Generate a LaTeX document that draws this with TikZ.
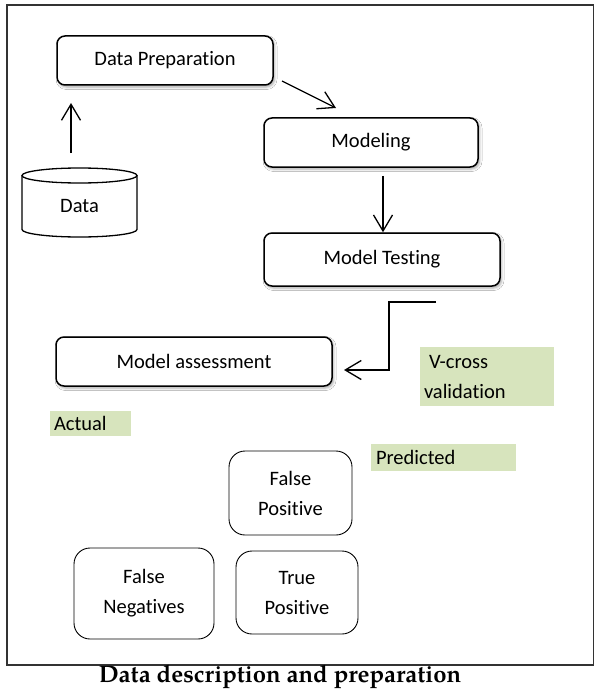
\documentclass[tikz,border=0pt]{standalone}
\usepackage{fontspec}
\setmainfont{Carlito}[Ligatures=NoCommon]
\newfontfamily\capfont{TeX Gyre Pagella}
\usetikzlibrary{arrows.meta,shadows.blur}
\definecolor{tagfill}{HTML}{D7E4BD}
\begin{document}
\begin{tikzpicture}[x=1pt,y=-1pt,
  every node/.style={font=\fontsize{20.5}{30}\selectfont, inner sep=0pt},
  mainbox/.style={draw, line width=1.5pt, rounded corners=8pt, fill=white,
    blur shadow={shadow xshift=1.5pt, shadow yshift=-2pt, shadow opacity=35, shadow blur radius=2.5pt}},
  cellbox/.style={draw, line width=0.9pt, rounded corners=16pt, align=center},
  tag/.style={fill=tagfill, inner xsep=4pt, align=left},
  arr/.style={line width=1.3pt, -{Straight Barb[length=16pt,width=19pt,line width=1.3pt]}}
]
\useasboundingbox (0,0) rectangle (595,690);
\fill[white] (0,0) rectangle (595,690);
% outer frame
\draw[line width=1.2pt, black!80] (7,5) rectangle (593.5,665);

% boxes of the flow
\node[mainbox, minimum width=216pt, minimum height=49pt] (prep) at (165,60.5) {Data Preparation};
\node[mainbox, minimum width=214pt, minimum height=49pt] (model) at (371,142.5) {Modeling};
\node[mainbox, minimum width=236pt, minimum height=53pt] (test) at (382,259.5) {Model Testing};
\node[mainbox, minimum width=276pt, minimum height=49pt] (assess) at (194,361.5) {Model assessment};

% database cylinder
\draw[line width=1.3pt] (22,175.5) -- (22,229.5) arc[start angle=180, end angle=360, x radius=57.5pt, y radius=7.5pt] -- (137,175.5);
\draw[line width=1.3pt] (79.5,175.5) ellipse [x radius=57.5pt, y radius=7.5pt];
\node (data) at (79.5,206) {Data};

% green labels
\node[tag, minimum width=134pt, minimum height=59pt, text width=126pt] (vcross) at (487,376.5) {\hspace*{5pt}V-cross\\validation};
\node[tag, minimum width=81pt, minimum height=25pt, text width=73pt] (actual) at (90.5,423.5) {Actual};
\node[tag, inner xsep=5pt, minimum width=145pt, minimum height=27pt, text width=135pt] (pred) at (443.5,457.5) {Predicted};

% confusion cells
\node[cellbox, minimum width=123pt, minimum height=84pt] (fp) at (290.5,493) {False\\Positive};
\node[cellbox, minimum width=140pt, minimum height=91pt] (fn) at (144,593.5) {False\\Negatives};
\node[cellbox, minimum width=122pt, minimum height=83pt] (tp) at (297,592.5) {True\\Positive};

% connector end points
\coordinate (a1s) at (71,153);
\coordinate (a1e) at (71,103);
\coordinate (a2s) at (282,81);
\coordinate (a2e) at (336,108);
\coordinate (a4s) at (436,302);
\coordinate (a4m) at (389,302);
\coordinate (a4e) at (344,370);

\draw[arr] (a1s) -- (a1e);
\draw[arr] (a2s) -- (a2e);
\draw[arr] (model.south -| test.north) ++(1,8) coordinate (a3s) -- (a3s |- test.north);
\draw[arr] (a4s) -- (a4m) |- (a4e);

% caption
\node[font=\capfont\bfseries\fontsize{23.9}{28}\selectfont, anchor=base] (cap) at (280,682) {Data description and preparation};
\end{tikzpicture}
\end{document}
